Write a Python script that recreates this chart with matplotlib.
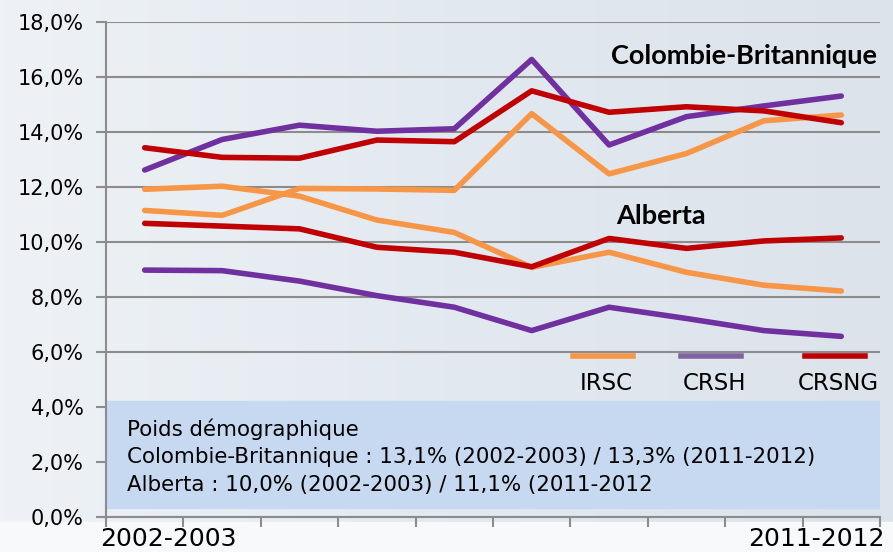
import numpy as np
import matplotlib
matplotlib.use("Agg")
import matplotlib.pyplot as plt
from matplotlib.patches import Rectangle
from matplotlib.ticker import FuncFormatter

annees = ["2002-2003", "2003-2004", "2004-2005", "2005-2006", "2006-2007",
          "2007-2008", "2008-2009", "2009-2010", "2010-2011", "2011-2012"]

# Colombie-Britannique
cb_irsc = [11.15, 10.97, 11.95, 11.93, 11.88, 14.67, 12.48, 13.22, 14.41, 14.62]
cb_crsh = [12.62, 13.73, 14.25, 14.03, 14.12, 16.64, 13.53, 14.56, 14.95, 15.31]
cb_crsng = [13.43, 13.08, 13.05, 13.71, 13.65, 15.50, 14.72, 14.92, 14.77, 14.34]

# Alberta
ab_irsc = [11.92, 12.03, 11.67, 10.80, 10.35, 9.08, 9.63, 8.90, 8.43, 8.22]
ab_crsh = [8.98, 8.96, 8.58, 8.05, 7.63, 6.78, 7.63, 7.22, 6.78, 6.57]
ab_crsng = [10.68, 10.58, 10.48, 9.81, 9.63, 9.10, 10.13, 9.77, 10.04, 10.15]

orange = "#F79646"
violet = "#7030A0"
rouge = "#C00000"

fig = plt.figure(figsize=(8.93, 5.52), dpi=100)

# fond en degrade
bg = fig.add_axes([0, 0, 1, 1])
grad = np.linspace(0, 1, 256)[None, :]
bg.imshow(grad, aspect="auto", cmap=matplotlib.colors.LinearSegmentedColormap.from_list(
    "fond", ["#EEF2F6", "#E3E9F0", "#DCE3EB"]), extent=[0, 1, 0, 1])
bg.add_patch(Rectangle((0, 0), 1, 0.055, color="#F7F9FB", zorder=2))
bg.axis("off")

ax = fig.add_axes([0.1187, 0.0634, 0.8667, 0.8966])
ax.set_facecolor("none")
x = np.arange(len(annees))

ax.set_xlim(-0.5, len(annees) - 0.5)
ax.set_ylim(0, 18)
ax.set_yticks(np.arange(0, 19, 2))
ax.yaxis.set_major_formatter(FuncFormatter(lambda v, p: f"{v:.1f}%".replace(".", ",")))
ax.grid(axis="y", color="#8C8C8C", lw=1.5, zorder=1)
ax.set_xticks(np.arange(-0.5, len(annees), 1))
ax.set_xticklabels([])
ax.tick_params(axis="both", color="#8C8C8C", width=1.5, length=7)
ax.tick_params(axis="y", labelsize=15, pad=9)
for s in ["top", "right"]:
    ax.spines[s].set_visible(False)
for s in ["left", "bottom"]:
    ax.spines[s].set_color("#8C8C8C")
    ax.spines[s].set_linewidth(1.5)

lw = 4
for serie, c in [(cb_irsc, orange), (cb_crsh, violet), (cb_crsng, rouge),
                 (ab_irsc, orange), (ab_crsh, violet), (ab_crsng, rouge)]:
    ax.plot(x, serie, color=c, lw=lw, solid_capstyle="round", zorder=3)

# encadre poids demographique
ax.add_patch(Rectangle((-0.5, 0.33), len(annees), 3.89, color="#C6D9F1", zorder=2))
fs_box = 15.4
ax.text(-0.23, 3.2, "Poids démographique", fontsize=fs_box, va="center", zorder=4)
ax.text(-0.23, 2.18, "Colombie-Britannique : 13,1% (2002-2003) / 13,3% (2011-2012)",
        fontsize=fs_box, va="center", zorder=4)
ax.text(-0.23, 1.16, "Alberta : 10,0% (2002-2003) / 11,1% (2011-2012",
        fontsize=fs_box, va="center", zorder=4)

# etiquettes des provinces
ax.text(9.46, 16.75, "Colombie-Britannique", fontsize=19.5, fontweight="bold",
        ha="right", va="center", family="Lato")
ax.text(6.67, 10.95, "Alberta", fontsize=19.5, fontweight="bold",
        ha="center", va="center", family="Lato")

# legende
leg = [("IRSC", orange, 5.92), ("CRSH", "#8064A2", 7.32), ("CRSNG", rouge, 8.92)]
for nom, c, xc in leg:
    ax.plot([xc - 0.39, xc + 0.39], [5.85, 5.85], color=c, lw=4, zorder=3)
    ax.text(xc + 0.04, 4.87, nom, fontsize=16.5, ha="center", va="center")

# annees extremes
fig.text(100 / 893, 1 - 539 / 552, annees[0], fontsize=18, ha="left", va="center")
fig.text(885 / 893, 1 - 539 / 552, annees[-1], fontsize=18, ha="right", va="center")

fig.savefig("out.png", dpi=100)
